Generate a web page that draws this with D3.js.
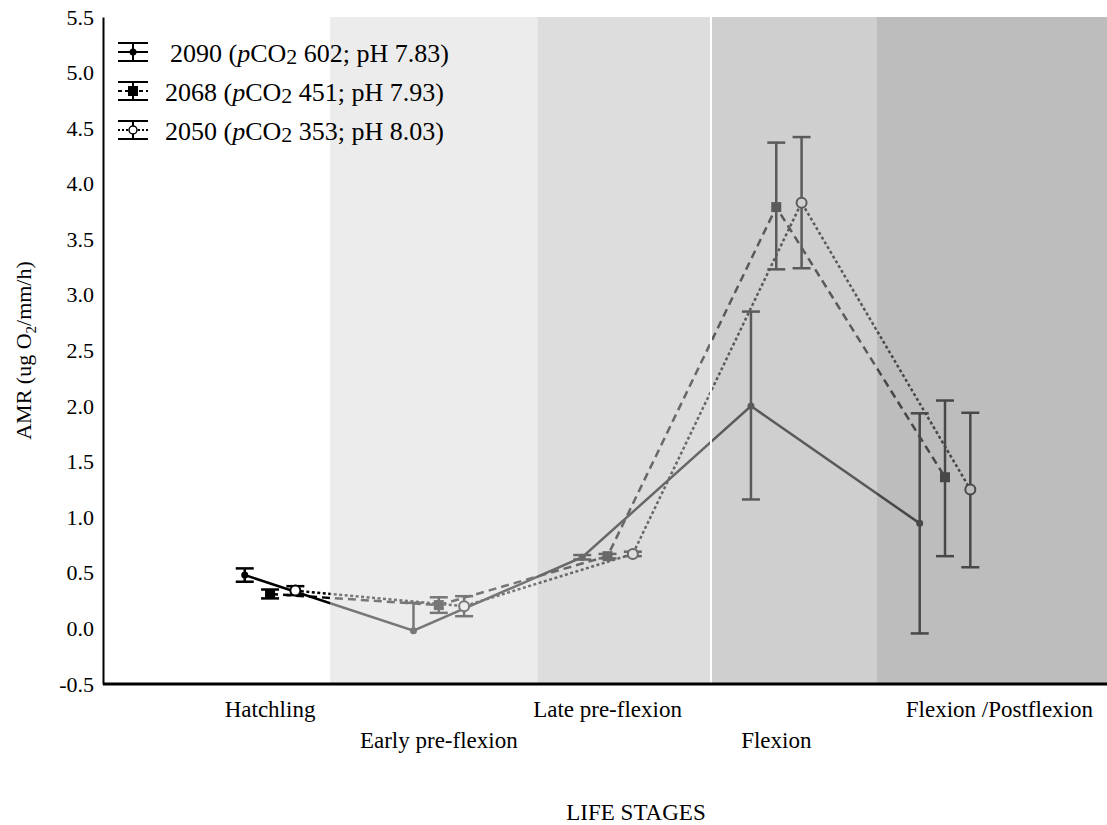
<!DOCTYPE html>
<html>
<head>
<meta charset="utf-8">
<script src="https://cdn.jsdelivr.net/npm/d3@7/dist/d3.min.js"></script>
<style>
  body { margin: 0; background: #fff; }
  text { font-family: "Liberation Serif", "Times New Roman", serif; fill: #000; }
</style>
</head>
<body>
<script>
// data
var stages = ["Hatchling", "Early pre-flexion", "Late pre-flexion", "Flexion", "Flexion /Postflexion"];
var yTicks = [-0.5, 0.0, 0.5, 1.0, 1.5, 2.0, 2.5, 3.0, 3.5, 4.0, 4.5, 5.0, 5.5];

var amr2090 = [0.48, -0.02, 0.64, 2.00, 0.945];
var up2090 = [0.06, 0.25, 0.02, 0.85, 0.99];
var down2090 = [0.06, 0.00, 0.02, 0.84, 0.99];

var amr2068 = [0.31, 0.21, 0.65, 3.79, 1.36];
var up2068 = [0.04, 0.07, 0.02, 0.58, 0.69];
var down2068 = [0.04, 0.07, 0.02, 0.56, 0.71];

var amr2050 = [0.34, 0.20, 0.67, 3.83, 1.25];
var up2050 = [0.04, 0.09, 0.02, 0.59, 0.69];
var down2050 = [0.04, 0.09, 0.02, 0.59, 0.70];

// stage shading, in category units
var bandStarts = [1.356, 2.585, 3.607, 4.597];
var bandEnd = 5.96;

(function() {
var W = 1107, H = 825;
var mLeft = 103, mRight = 1107, mTop = 17, mBottom = 684;

var x = d3.scaleLinear().domain([0.01, 5.96]).range([mLeft, mRight]);
var y = d3.scaleLinear().domain([-0.5, 5.5]).range([mBottom, mTop]);

var series = [
  {name: "2090", pco2: "602", ph: "7.83", vals: amr2090, up: up2090, down: down2090, off: -0.15, dash: null, marker: "dot"},
  {name: "2068", pco2: "451", ph: "7.93", vals: amr2068, up: up2068, down: down2068, off: 0, dash: "8,5", marker: "square"},
  {name: "2050", pco2: "353", ph: "8.03", vals: amr2050, up: up2050, down: down2050, off: 0.15, dash: "3,2.5", marker: "circle"}
];

var svg = d3.select("body").append("svg")
  .attr("width", W).attr("height", H)
  .attr("xmlns", "http://www.w3.org/2000/svg");

var plot = svg.append("g");

function drawMarker(g, kind, cx, cy) {
  if (kind === "dot") {
    g.append("circle").attr("cx", cx).attr("cy", cy).attr("r", 3.5).attr("fill", "#000");
  } else if (kind === "square") {
    g.append("rect").attr("x", cx - 5).attr("y", cy - 5).attr("width", 10).attr("height", 10).attr("fill", "#000");
  } else {
    g.append("circle").attr("cx", cx).attr("cy", cy).attr("r", 5)
      .attr("fill", "#fff").attr("stroke", "#000").attr("stroke-width", 2);
  }
}

series.forEach(function(s) {
  var pts = s.vals.map(function(v, i) { return [x(i + 1 + s.off), y(v)]; });
  plot.append("path")
    .attr("d", d3.line()(pts))
    .attr("fill", "none")
    .attr("stroke", "#000")
    .attr("stroke-width", 2.5)
    .attr("stroke-dasharray", s.dash);

  s.vals.forEach(function(v, i) {
    var cx = x(i + 1 + s.off);
    var y1 = y(v + s.up[i]), y0 = y(v - s.down[i]);
    var eb = plot.append("g").attr("stroke", "#000").attr("stroke-width", 2.5);
    eb.append("line").attr("x1", cx).attr("x2", cx).attr("y1", y1).attr("y2", y0);
    eb.append("line").attr("x1", cx - 9).attr("x2", cx + 9).attr("y1", y1).attr("y2", y1);
    if (s.down[i] > 0) {
      eb.append("line").attr("x1", cx - 9).attr("x2", cx + 9).attr("y1", y0).attr("y2", y0);
    }
    drawMarker(plot, s.marker, cx, y(v));
  });
});

// translucent stage bands laid over the data
var bandFills = ["#dcdcdc", "#c1c1c1", "#a7a7a7", "#858585"];
bandStarts.forEach(function(b, i) {
  var e = i < bandStarts.length - 1 ? bandStarts[i + 1] : bandEnd;
  svg.append("rect")
    .attr("x", x(b)).attr("y", mTop)
    .attr("width", x(e) - x(b)).attr("height", mBottom - mTop)
    .attr("fill", bandFills[i]).attr("fill-opacity", 0.54);
});
svg.append("line")
  .attr("x1", x(bandStarts[2]) + 1).attr("x2", x(bandStarts[2]) + 1)
  .attr("y1", mTop).attr("y2", mBottom)
  .attr("stroke", "#fff").attr("stroke-width", 2);

// axes
var yAxis = svg.append("g").attr("transform", "translate(" + mLeft + ",0)")
  .call(d3.axisLeft(y).tickValues(yTicks).tickSize(0).tickPadding(9)
    .tickFormat(function(d) { return d3.format(".1f")(d).replace("\u2212", "-"); }))
  .attr("font-family", "'Liberation Serif', serif")
  .attr("font-size", 22);
yAxis.select(".domain").attr("stroke", "#000").attr("stroke-width", 2);
yAxis.selectAll("text").attr("fill", "#000");

svg.append("line")
  .attr("x1", mLeft).attr("x2", mRight)
  .attr("y1", mBottom).attr("y2", mBottom)
  .attr("stroke", "#000").attr("stroke-width", 3);

// stage labels, alternating rows
stages.forEach(function(s, i) {
  var t = svg.append("text")
    .attr("x", x(i + 1))
    .attr("y", i % 2 === 0 ? 717 : 748)
    .attr("text-anchor", "middle")
    .style("font-size", "23px")
    .text(s);
  if (i === stages.length - 1) {
    t.attr("text-anchor", "end").attr("x", W - 14);
  }
});

svg.append("text")
  .attr("x", 636).attr("y", 820)
  .attr("text-anchor", "middle")
  .style("font-size", "23px")
  .text("LIFE STAGES");

var yl = svg.append("text")
  .attr("transform", "translate(31," + (mTop + mBottom) / 2 + ") rotate(-90)")
  .attr("text-anchor", "middle")
  .style("font-size", "22px");
yl.append("tspan").text("AMR (ug O");
yl.append("tspan").attr("dy", 5).style("font-size", "15px").text("2");
yl.append("tspan").attr("dy", -5).text("/mm/h)");

// legend
series.forEach(function(s, i) {
  var cy = 52 + i * 39;
  var g = svg.append("g").attr("stroke", "#000").attr("stroke-width", 2);
  g.append("line").attr("x1", 118).attr("x2", 148).attr("y1", cy - 9).attr("y2", cy - 9);
  g.append("line").attr("x1", 118).attr("x2", 148).attr("y1", cy + 9).attr("y2", cy + 9);
  g.append("line").attr("x1", 133).attr("x2", 133).attr("y1", cy - 9).attr("y2", cy + 9);
  g.append("line").attr("x1", 118).attr("x2", 148).attr("y1", cy).attr("y2", cy)
    .attr("stroke-dasharray", s.dash ? (s.marker === "square" ? "4,3" : "2,2") : null);
  var mk = svg.append("g");
  if (s.marker === "dot") mk.append("circle").attr("cx", 133).attr("cy", cy).attr("r", 3.5).attr("fill", "#000");
  else if (s.marker === "square") mk.append("rect").attr("x", 128).attr("y", cy - 5).attr("width", 10).attr("height", 10).attr("fill", "#000");
  else mk.append("circle").attr("cx", 133).attr("cy", cy).attr("r", 4).attr("fill", "#fff").attr("stroke", "#000").attr("stroke-width", 1.5);

  var t = svg.append("text")
    .attr("x", i === 0 ? 170 : 165).attr("y", cy + 10)
    .style("font-size", "26px");
  t.append("tspan").text(s.name + " (");
  t.append("tspan").style("font-style", "italic").text("p");
  t.append("tspan").text("CO");
  t.append("tspan").attr("dy", 2).style("font-size", "22px").text("2");
  t.append("tspan").attr("dy", -2).text(" " + s.pco2 + "; pH " + s.ph + ")");
});
})();
</script>
</body>
</html>
